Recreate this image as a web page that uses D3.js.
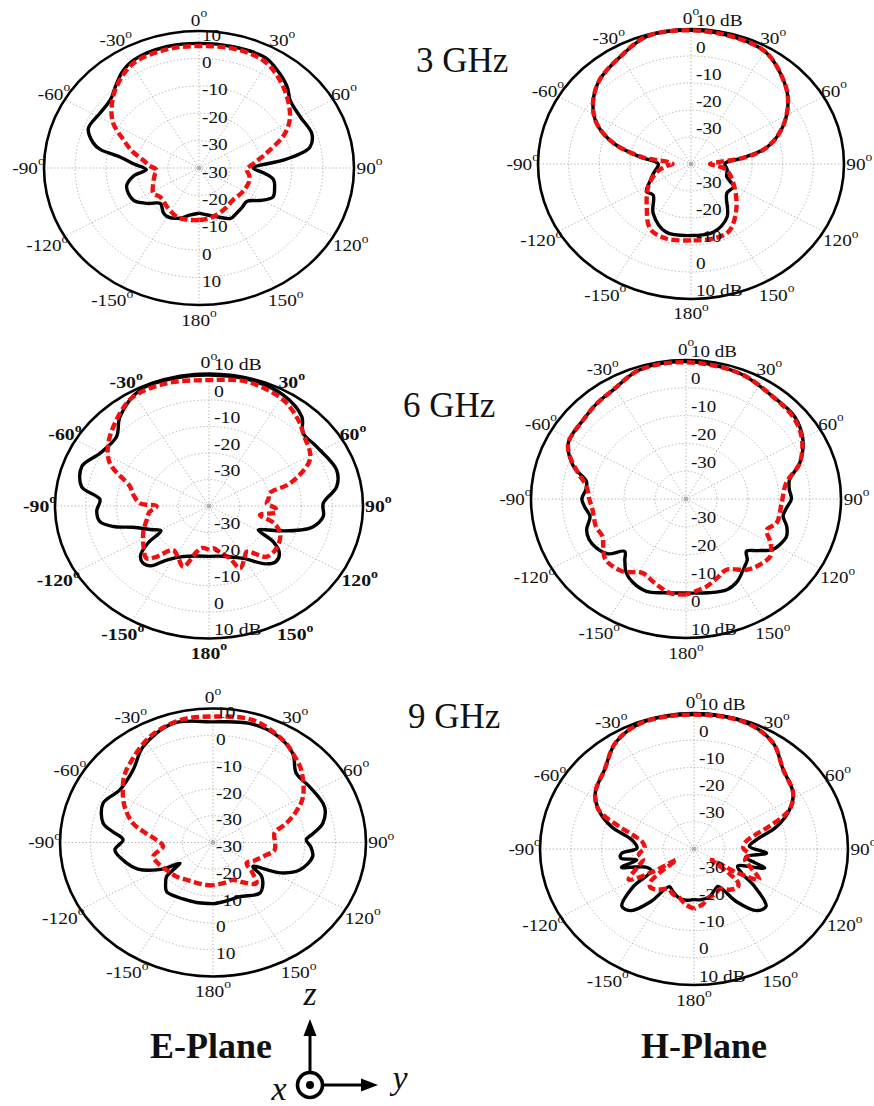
<!DOCTYPE html>
<html>
<head>
<meta charset="utf-8">
<script src="https://cdn.jsdelivr.net/npm/d3@7"></script>
<style>
  body { margin: 0; background: #fff; }
  svg { display: block; font-family: "Liberation Serif", "Times New Roman", serif; }
</style>
</head>
<body>
<svg id="chart" width="874" height="1106"></svg>
<script>
// ---- data: [angle in degrees, gain in dB] ----

// E-plane, 3 GHz
const e3Black = [[-180,-23.5],[-170,-22.5],[-161,-20.6],[-150,-19.5],[-145,-20],[-136,-22],[-128,-19],[-119,-15.8],[-106,-15.7],[-98,-18.6],[-92,-23],[-86,-19],[-81,-14.2],[-78,-7.4],[-75,-4.7],[-68,-1.5],[-58,-2.3],[-49,-2.1],[-42,0.2],[-35,3],[-28,4.7],[-13,5.5],[0,5.5],[14,5.6],[28,5.6],[36,3.5],[44,1],[50,-1.6],[60,-2.4],[71,-1.5],[78,-3.4],[81,-7],[84,-12.6],[90,-22.5],[95,-19],[100,-15.6],[107,-14.5],[114,-13.9],[121,-17],[128,-20.3],[136,-20],[144,-19.5],[151,-19],[162,-21.3],[170,-22.5],[180,-23.5]];
const e3Red = [[-180,-21],[-170,-20.8],[-158,-20.8],[-144,-22.5],[-130,-23.6],[-122,-22.6],[-111,-24.2],[-100,-25.5],[-93,-26.3],[-87,-24],[-81,-21.8],[-74,-17.5],[-67,-13.5],[-59.5,-7.9],[-51.5,-4],[-42,-0.2],[-29,3.7],[-13.5,4.5],[0,4.5],[17,5],[30,4],[44,-0.3],[57.5,-5.2],[65.5,-9.5],[76,-17.5],[84,-22],[92,-24.6],[100,-23.5],[109,-23.1],[123,-23.5],[137,-24],[150,-23],[162,-22],[170,-21.3],[180,-21]];

// H-plane, 3 GHz
const h3Black = [[-180,-13.5],[-162,-13.5],[-146,-17.9],[-133,-23.1],[-125,-22.2],[-116,-25],[-106,-27.2],[-90,-29.3],[-81,-23.1],[-73,-13.5],[-64,-5.7],[-55,-0.9],[-44,3.1],[-30,6],[-17,9.4],[0,9.5],[18,9],[31,8],[44,3.4],[53,-0.3],[65,-6.8],[76,-14.4],[83,-23.9],[89,-28.9],[100,-28],[112,-27.4],[121,-23.8],[133,-24],[149,-17.1],[164,-13.7],[180,-13.5]];
const h3Red = [[-180,-11.7],[-164,-11.2],[-151,-12.5],[-138,-18.4],[-121,-23.7],[-105,-28.4],[-95,-32],[-90,-34],[-84,-32],[-81,-24],[-73,-13.5],[-64,-5.7],[-55,-0.9],[-44,3.1],[-30,6],[-17,9.4],[0,9.5],[18,9],[31,8],[44,3.4],[53,-0.3],[65,-6.8],[76,-14.4],[82,-22],[85,-30],[90,-33.8],[95,-31],[101,-28.1],[116,-24.7],[137,-18.2],[153,-12.3],[165,-11.4],[180,-11.7]];

// E-plane, 6 GHz
const e6Black = [[-180,-21],[-168,-20.7],[-156,-19.1],[-146,-15.4],[-140,-10.5],[-135,-9.6],[-130,-11],[-125,-16],[-121,-21.8],[-115,-19],[-108,-14],[-104,-8],[-99.5,-4.1],[-93,-3.5],[-86,-4.5],[-80,2],[-70,3.9],[-60.6,0.6],[-49,-0.2],[-40.6,4.4],[-27,9.2],[-13.5,9.5],[0,9.4],[15.6,9.4],[30,8.3],[41.8,5.2],[48,1.1],[57.3,1.5],[71.8,3.6],[80,2.1],[88.5,-2.9],[96,-2.7],[103,-5.3],[107,-9],[112,-15],[116,-19.5],[119.5,-21.6],[123,-15],[128,-11],[134,-9.8],[140,-11.5],[150.5,-17.3],[160,-19.5],[170,-20.8],[180,-21]];
const e6Red = [[-180,-23.5],[-172,-24],[-167,-22.3],[-160,-15.6],[-153,-18],[-145,-19.7],[-138,-14],[-134,-11.7],[-125,-14],[-114.4,-16.6],[-104.6,-19.1],[-97,-20.5],[-90,-23],[-87.4,-17.6],[-80,-15],[-74,-13.3],[-63.4,-4],[-54,0.4],[-39.5,5.4],[-30.8,8],[-16.5,8.3],[0,7.5],[15,8.5],[31,6.7],[41.8,3.5],[50,0.5],[58.8,-1.6],[63.5,-3.9],[72,-12.3],[76,-19.6],[82,-20.5],[87,-21.2],[92,-18.5],[96,-18],[101.6,-23.1],[107,-18],[114,-14.7],[125,-13],[135.6,-13.2],[144.6,-18.8],[150,-17],[156.8,-14.4],[161,-19.1],[168,-22],[175,-24],[180,-23.5]];

// H-plane, 6 GHz
const h6Black = [[-180,-6.2],[-168,-5.5],[-159,-4.4],[-150,-5.5],[-144,-7.2],[-138,-10.5],[-133.7,-12.7],[-128,-8],[-121.5,-6.2],[-115,-5.5],[-109,-6.1],[-101.5,-8.4],[-95,-7.2],[-90,-6.4],[-84,-7.5],[-79,-7.3],[-72,-1.8],[-62,3],[-49,3.7],[-40,4.8],[-31,5.7],[-18,8.8],[0,9.4],[20.9,8.4],[37,6.3],[49.7,5.9],[60.6,3.3],[70.6,-1.1],[78.3,-5.9],[84,-6.5],[90,-6],[96,-7.5],[101,-8.1],[107,-6],[112.6,-4.9],[118,-5.5],[123,-6.6],[129,-10.5],[134,-12.9],[138,-10.5],[144,-8.6],[151,-6],[158,-4.8],[168,-5.5],[180,-6.2]];
const h6Red = [[-180,-5.6],[-171,-5.8],[-162,-8],[-152,-9.9],[-142,-6.9],[-130,-6.1],[-122,-8.5],[-116.6,-9.9],[-109,-9.3],[-97.4,-9.6],[-90,-8.8],[-82,-7.6],[-75,-4],[-67.8,0.4],[-62,3],[-49,3.7],[-40,4.8],[-31,5.7],[-18,8.8],[0,9.2],[20.9,8.4],[37,6.3],[49,5.5],[55.9,4.3],[62,2.5],[70.6,-1.1],[80,-7.2],[92.7,-9.1],[106.5,-9.5],[113,-11.7],[120,-8.5],[127,-5.9],[135,-6.5],[142.5,-7.9],[152.8,-11.4],[160,-10],[168,-7.9],[180,-5.6]];

// E-plane, 9 GHz
const e9Black = [[-180,-17.2],[-168,-17],[-158,-16.9],[-149,-16.5],[-140.4,-16.2],[-134,-18.5],[-130,-20.2],[-125.5,-26.7],[-122,-22],[-119,-18.9],[-112,-13.5],[-105,-10.7],[-95,-7.8],[-88,-10.6],[-83,-7],[-78.7,-3.4],[-67.9,-1.2],[-57,-3.8],[-44,-2.4],[-32.6,2.4],[-16.4,6.3],[0,5],[15,6],[27.3,5.1],[38,2.3],[46.5,-2.5],[56.6,-2.2],[70,-1.2],[78.7,-3.4],[84,-7],[88,-9.5],[93,-8],[99,-7],[110,-9.9],[117,-15],[124.6,-24.2],[128,-20],[133,-17.7],[141,-15.7],[156.7,-18],[168,-17.8],[177,-17.3],[180,-17.2]];
const e9Red = [[-180,-24],[-172,-24],[-160,-24],[-148,-23.6],[-136,-22.5],[-124,-21.7],[-114,-20.5],[-105,-19.8],[-95,-23.6],[-87,-21.5],[-80,-17],[-74.7,-12.9],[-67,-9],[-59.9,-6],[-50,-2],[-42.6,0.1],[-27.7,4.5],[-13.4,6.9],[0,7],[16,7.5],[31,4.5],[39,2],[46.9,-0.5],[59.9,-6],[67,-10.5],[73.4,-15],[80,-19.6],[90,-19.7],[98,-19.7],[108,-22.9],[117,-25],[125,-26.6],[131,-23],[137,-19.2],[146,-22],[155,-24.6],[165,-24.5],[180,-24]];

// H-plane, 9 GHz
const h9Black = [[-180,-21.5],[-172,-21],[-164,-21.5],[-156,-23],[-150,-24],[-144,-16],[-138,-9.5],[-132,-8.5],[-125,-16],[-120,-24],[-113,-23],[-106,-15.5],[-102,-21],[-98,-16],[-94,-16.4],[-89,-21.5],[-80.5,-19.5],[-73,-12],[-65,-5.8],[-57,-1.8],[-45,1.1],[-33,6.7],[-20,9.4],[0,9.4],[20,9.4],[33.3,6.7],[44.8,1.1],[57.4,-1.8],[65,-5.8],[73,-12],[80.5,-19.5],[87,-22],[93.7,-16.4],[100,-23],[107,-16],[114,-24.5],[120,-22],[125,-16],[132,-8.5],[138,-9.5],[144.5,-16.2],[150.5,-24.2],[156,-23.5],[164,-21.8],[174,-21.2],[180,-21.5]];
const h9Red = [[-180,-18],[-172,-19.5],[-165,-21.5],[-158,-22],[-150,-23],[-142,-21],[-135,-20],[-131,-21],[-128,-26],[-125,-33],[-122,-24],[-118,-16],[-110,-20.5],[-103,-23],[-96,-22],[-89,-24],[-81,-23],[-76,-20],[-71,-14],[-65,-5.8],[-57,-1.8],[-45,1.1],[-33,6.7],[-20,9.4],[0,9.4],[20,9.4],[33.3,6.7],[44.8,1.1],[57.4,-1.8],[65,-5.8],[71,-14],[76,-20],[81,-23],[89,-24],[96,-22],[103,-23],[110,-20.5],[118,-16],[122,-24],[125,-33],[128,-26],[131,-21],[135,-20],[142,-21],[150,-23],[158,-22],[165,-21.5],[172,-19.5],[180,-18]];

// ticks and labels
const angleTicks = [0, 30, 60, 90, 120, 150, 180, -150, -120, -90, -60, -30];
const spokeAngles = [0, 30, 60, 90, 120, 150, 180, 210, 240, 270, 300, 330];
const ringValues = [-30, -20, -10, 0];
const radialLabelsSeq = ['10', '0', '-10', '-20', '-30', '-30', '-20', '-10', '0', '10'];
const radialTop = [[10, '10 dB'], [0, '0'], [-10, '-10'], [-20, '-20'], [-30, '-30']];
const radialBottom = [[-30, '-30'], [-20, '-20'], [-10, '-10'], [0, '0'], [10, '10 dB']];
const freqLabels = ['3 GHz', '6 GHz', '9 GHz'];
const planeLabels = ['E-Plane', 'H-Plane'];

// ---- layout ----
const plots = [
  { cx: 199, cy: 168,   rx: 155, ry: 137,   seq: true,  bold: false, black: e3Black, red: e3Red },
  { cx: 691, cy: 164,   rx: 153, ry: 135,   seq: false, bold: false, black: h3Black, red: h3Red },
  { cx: 209, cy: 506,   rx: 154, ry: 132.5, seq: false, bold: true,  black: e6Black, red: e6Red },
  { cx: 686, cy: 499,   rx: 155, ry: 139,   seq: false, bold: false, black: h6Black, red: h6Red },
  { cx: 213, cy: 842.5, rx: 153, ry: 134,   seq: true,  bold: false, black: e9Black, red: e9Red },
  { cx: 694, cy: 849,   rx: 154, ry: 136,   seq: false, bold: false, black: h9Black, red: h9Red }
];

const svg = d3.select('#chart');
const rScale = d3.scaleLinear().domain([-40, 10]).range([0, 1]).clamp(true);
const rad = d => d * Math.PI / 180;
// distance of the angle labels from the centre, in outer radii
const labelDist = d3.scaleLinear().domain([0, 30, 60, 90, 120, 150, 180])
  .range([1.08, 1.075, 1.08, 1.1, 1.13, 1.12, 1.11]);

function degLabel(sel, txt, size) {
  sel.append('tspan').text(txt);
  sel.append('tspan').attr('font-size', size * 0.7).attr('dy', -size * 0.38).text('o');
}

function drawPolar(p) {
  const k = p.rx / p.ry, R = p.ry;
  const px = (a, v) => k * R * rScale(v) * Math.sin(rad(a));
  const py = (a, v) => -R * rScale(v) * Math.cos(rad(a));

  const g = svg.append('g').attr('transform', `translate(${p.cx},${p.cy})`);

  // dotted grid
  g.selectAll('ellipse.ring').data(ringValues).join('ellipse')
    .attr('class', 'ring')
    .attr('rx', v => k * R * rScale(v)).attr('ry', v => R * rScale(v))
    .attr('fill', 'none').attr('stroke', '#a8a8a8')
    .attr('stroke-width', 0.9).attr('stroke-dasharray', '1.3,2.2');
  g.selectAll('line.spoke').data(spokeAngles).join('line')
    .attr('class', 'spoke')
    .attr('x1', 0).attr('y1', 0)
    .attr('x2', a => px(a, 10)).attr('y2', a => py(a, 10))
    .attr('stroke', '#a8a8a8').attr('stroke-width', 0.9).attr('stroke-dasharray', '1.3,2.2');
  g.append('circle').attr('r', 2).attr('fill', 'none').attr('stroke', '#888').attr('stroke-width', 0.8);

  // text (stretched horizontally with the plot)
  const t = svg.append('g')
    .attr('transform', `translate(${p.cx},${p.cy}) scale(${k},1)`)
    .attr('font-size', 17).attr('fill', '#111');

  angleTicks.forEach(a => {
    const f = labelDist(Math.abs(a));
    const lab = t.append('text')
      .attr('x', R * f * Math.sin(rad(a)))
      .attr('y', -R * f * Math.cos(rad(a)))
      .attr('text-anchor', 'middle')
      .attr('dominant-baseline', 'central')
      .attr('font-weight', p.bold && a !== 0 ? 'bold' : 'normal');
    degLabel(lab, String(a), 17);
  });

  if (p.seq) {
    t.selectAll('text.rl').data(radialLabelsSeq).join('text')
      .attr('class', 'rl')
      .attr('x', 3 / k).attr('y', (d, i) => -R + 4 + i * R / 5)
      .attr('dominant-baseline', 'central').text(d => d);
  } else {
    t.selectAll('text.rt').data(radialTop).join('text')
      .attr('class', 'rt')
      .attr('x', 5 / k).attr('y', d => -R * rScale(d[0]) - 9)
      .attr('dominant-baseline', 'central').text(d => d[1]);
    t.selectAll('text.rb').data(radialBottom).join('text')
      .attr('class', 'rb')
      .attr('x', 5 / k).attr('y', d => R * rScale(d[0]) - 9)
      .attr('dominant-baseline', 'central').text(d => d[1]);
  }

  // outer 10 dB circle
  g.append('ellipse').attr('rx', k * R).attr('ry', R)
    .attr('fill', 'none').attr('stroke', '#000').attr('stroke-width', 2.6);

  const line = d3.line()
    .x(d => px(d[0], d[1]))
    .y(d => py(d[0], d[1]))
    .curve(d3.curveCatmullRom.alpha(0.5));

  g.append('path').datum(p.black).attr('d', line)
    .attr('fill', 'none').attr('stroke', '#000').attr('stroke-width', 3.4)
    .attr('stroke-linejoin', 'round');
  g.append('path').datum(p.red).attr('d', line)
    .attr('fill', 'none').attr('stroke', '#f01010').attr('stroke-width', 4.4)
    .attr('stroke-dasharray', '8,3.5');
}

plots.forEach(drawPolar);

// frequency captions
const freqPos = [[416, 72], [403, 417], [408, 728]];
svg.selectAll('text.freq').data(freqLabels).join('text')
  .attr('class', 'freq')
  .attr('x', (d, i) => freqPos[i][0]).attr('y', (d, i) => freqPos[i][1])
  .attr('font-size', 35).attr('fill', '#111').text(d => d);

// plane captions
const planeX = [150, 641];
svg.selectAll('text.plane').data(planeLabels).join('text')
  .attr('class', 'plane')
  .attr('x', (d, i) => planeX[i]).attr('y', 1058)
  .attr('font-size', 36).attr('font-weight', 'bold').attr('fill', '#111').text(d => d);

// coordinate symbol
const ax = svg.append('g').attr('stroke', '#000').attr('fill', '#000');
ax.append('line').attr('x1', 310).attr('y1', 1072).attr('x2', 310).attr('y2', 1034).attr('stroke-width', 3);
ax.append('path').attr('d', 'M310,1019 L303.5,1036 L316.5,1036 Z').attr('stroke', 'none');
ax.append('circle').attr('cx', 310).attr('cy', 1085).attr('r', 12.5).attr('fill', 'none').attr('stroke-width', 3.6);
ax.append('circle').attr('cx', 310).attr('cy', 1085).attr('r', 4).attr('stroke', 'none');
ax.append('line').attr('x1', 323).attr('y1', 1085).attr('x2', 362).attr('y2', 1085).attr('stroke-width', 3);
ax.append('path').attr('d', 'M378,1085 L361,1078.5 L361,1091.5 Z').attr('stroke', 'none');

const axisNames = [['z', 310, 1005], ['y', 400, 1089], ['x', 279, 1100]];
svg.selectAll('text.axn').data(axisNames).join('text')
  .attr('class', 'axn')
  .attr('x', d => d[1]).attr('y', d => d[2])
  .attr('text-anchor', 'middle')
  .attr('font-size', 34).attr('font-style', 'italic').attr('fill', '#111')
  .text(d => d[0]);
</script>
</body>
</html>
